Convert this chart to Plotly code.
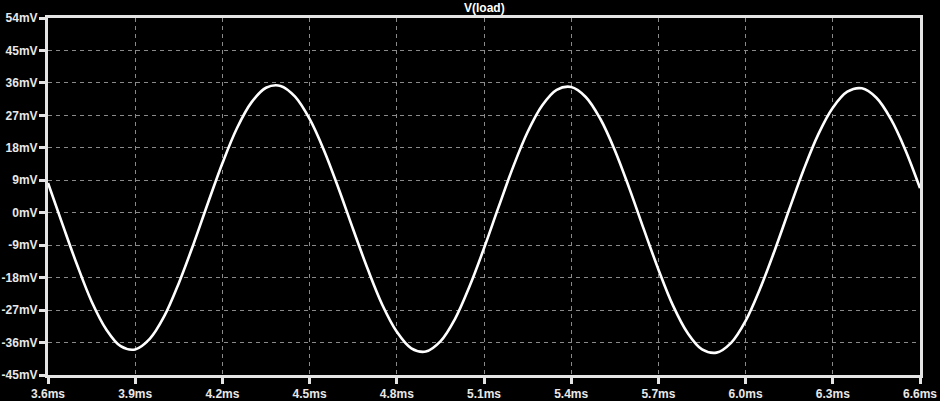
import plotly.graph_objects as go

# time (ms) and V(load) (mV)
t_ms = [3.60, 3.65, 3.70, 3.75, 3.80, 3.85, 3.90, 3.95, 4.00, 4.05,
        4.10, 4.15, 4.20, 4.25, 4.30, 4.35, 4.40, 4.45, 4.50, 4.55,
        4.60, 4.65, 4.70, 4.75, 4.80, 4.85, 4.90, 4.95, 5.00, 5.05,
        5.10, 5.15, 5.20, 5.25, 5.30, 5.35, 5.40, 5.45, 5.50, 5.55,
        5.60, 5.65, 5.70, 5.75, 5.80, 5.85, 5.90, 5.95, 6.00, 6.05,
        6.10, 6.15, 6.20, 6.25, 6.30, 6.35, 6.40, 6.45, 6.50, 6.55, 6.60]
v_load_mV = [8.25, -3.23, -14.45, -24.6, -32.3, -37.0, -37.9, -35.0, -28.7, -19.53,
             -8.84, 2.62, 13.72, 23.43, 30.60, 34.66, 35.17, 32.18, 26.00, 17.21,
             6.65, -4.66, -15.63, -25.5, -33.0, -37.6, -38.5, -35.7, -29.5, -20.48,
             -9.87, 1.54, 12.65, 22.37, 29.73, 34.07, 34.86, 32.10, 26.06, 17.35,
             6.76, -4.63, -15.72, -25.7, -33.3, -37.9, -38.8, -36.1, -30.0, -21.02,
             -10.47, 0.89, 11.98, 21.73, 29.11, 33.56, 34.50, 31.88, 25.96, 17.35, 6.81]

x_tick_vals = [3.6, 3.9, 4.2, 4.5, 4.8, 5.1, 5.4, 5.7, 6.0, 6.3, 6.6]
x_tick_text = ["3.6ms", "3.9ms", "4.2ms", "4.5ms", "4.8ms", "5.1ms",
               "5.4ms", "5.7ms", "6.0ms", "6.3ms", "6.6ms"]
y_tick_vals = [54, 45, 36, 27, 18, 9, 0, -9, -18, -27, -36, -45]
y_tick_text = ["54mV", "45mV", "36mV", "27mV", "18mV", "9mV", "0mV",
               "-9mV", "-18mV", "-27mV", "-36mV", "-45mV"]
title_text = "V(load)"

axis_color = "#e4e4e4"
tick_font = dict(family="Liberation Sans, Arial, sans-serif", size=12,
                 color="#e8e8e8", weight="bold")

fig = go.Figure()
fig.add_trace(go.Scatter(
    x=t_ms, y=v_load_mV, mode="lines",
    line=dict(color="#ffffff", width=2.6, shape="spline", smoothing=1.0),
    hoverinfo="skip", showlegend=False,
))

common = dict(
    showline=True, linecolor=axis_color, linewidth=3, mirror=True,
    ticks="outside", ticklen=6, tickwidth=3, tickcolor=axis_color,
    showgrid=True, gridcolor="#8a8a8a", gridwidth=1, griddash="4px,4px",
    zeroline=False, tickfont=tick_font, automargin=False,
)

fig.update_xaxes(range=[3.6, 6.6], tickmode="array", tickvals=x_tick_vals,
                 ticktext=x_tick_text, ticklabelstandoff=0, **common)
fig.update_yaxes(range=[-45, 54], tickmode="array", tickvals=y_tick_vals,
                 ticktext=y_tick_text, ticklabelstandoff=-1, **common)

fig.add_annotation(
    text=title_text, xref="paper", yref="paper", x=0.5, y=1.0,
    xanchor="center", yanchor="bottom", yshift=1, showarrow=False,
    font=dict(family="Liberation Sans, Arial, sans-serif", size=12,
              color="#ffffff", weight="bold"),
)

fig.update_layout(
    width=940, height=401,
    paper_bgcolor="#000000", plot_bgcolor="#000000",
    margin=dict(l=48, r=20, t=18, b=26),
)

fig.write_html(
    "out.html",
    config={"displayModeBar": False},
    post_script="document.body.style.margin='0';document.body.style.overflow='hidden';"
                "document.body.style.background='#000';",
)
